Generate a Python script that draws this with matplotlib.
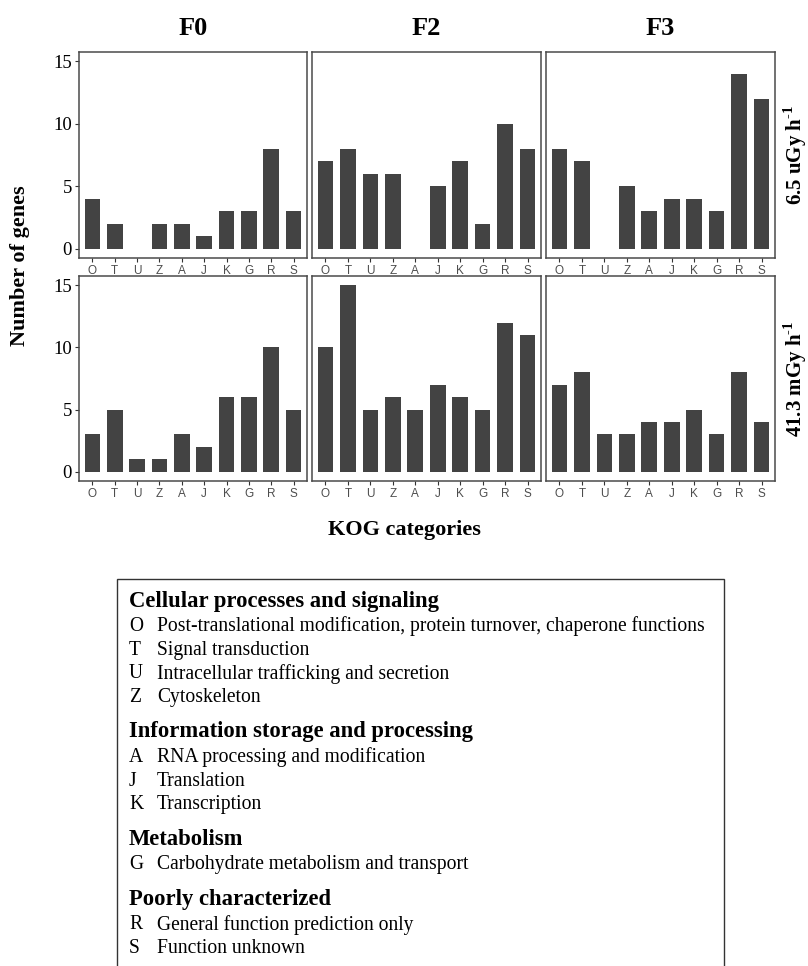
import matplotlib
matplotlib.use("Agg")
import matplotlib.pyplot as plt
from matplotlib.patches import Rectangle

plt.rcParams["mathtext.fontset"] = "custom"
plt.rcParams["mathtext.rm"] = "Liberation Serif:bold"
plt.rcParams["mathtext.bf"] = "Liberation Serif:bold"

categories = ["O", "T", "U", "Z", "A", "J", "K", "G", "R", "S"]
generations = ["F0", "F2", "F3"]
dose_labels = [r"6.5 uGy h$^{\mathbf{\text{-}1}}$", r"41.3 mGy h$^{\mathbf{\text{-}1}}$"]

# genes per KOG category, one list per generation
low_f0 = [4, 2, 0, 2, 2, 1, 3, 3, 8, 3]
low_f2 = [7, 8, 6, 6, 0, 5, 7, 2, 10, 8]
low_f3 = [8, 7, 0, 5, 3, 4, 4, 3, 14, 12]
high_f0 = [3, 5, 1, 1, 3, 2, 6, 6, 10, 5]
high_f2 = [10, 15, 5, 6, 5, 7, 6, 5, 12, 11]
high_f3 = [7, 8, 3, 3, 4, 4, 5, 3, 8, 4]

legend_groups = [
    ("Cellular processes and signaling", [
        ("O", "Post-translational modification, protein turnover, chaperone functions"),
        ("T", "Signal transduction"),
        ("U", "Intracellular trafficking and secretion"),
        ("Z", "Cytoskeleton")]),
    ("Information storage and processing", [
        ("A", "RNA processing and modification"),
        ("J", "Translation"),
        ("K", "Transcription")]),
    ("Metabolism", [
        ("G", "Carbohydrate metabolism and transport")]),
    ("Poorly characterized", [
        ("R", "General function prediction only"),
        ("S", "Function unknown")]),
]

W, H = 808, 966
fig = plt.figure(figsize=(W / 100, H / 100), dpi=100)

def px_axes(x0, y0, x1, y1):
    # pixel box (top-left origin) -> figure axes
    return fig.add_axes([x0 / W, 1 - y1 / H, (x1 - x0) / W, (y1 - y0) / H])

serif = "Liberation Serif"
col_px = [(79, 307), (312, 541), (546, 775)]
row_px = [(52, 258), (276, 481)]
data = [[low_f0, low_f2, low_f3], [high_f0, high_f2, high_f3]]
xpos = list(range(1, len(categories) + 1))

for r, (y0, y1) in enumerate(row_px):
    for c, (x0, x1) in enumerate(col_px):
        ax = px_axes(x0, y0, x1, y1)
        ax.bar(xpos, data[r][c], width=0.7, color="#434343", linewidth=0)
        ax.set_xlim(0.4, 10.6)
        ax.set_ylim(-0.75, 15.75)
        ax.set_xticks(xpos)
        ax.set_xticklabels(categories, fontsize=8.5, color="#4d4d4d",
                           family="Liberation Sans")
        ax.set_yticks([0, 5, 10, 15])
        if c == 0:
            ax.set_yticklabels(["0", "5", "10", "15"], fontsize=13.5,
                               family=serif, color="black")
        else:
            ax.tick_params(axis="y", left=False, labelleft=False)
        ax.tick_params(axis="both", length=3, width=0.8, color="#333333", pad=2)
        for s in ax.spines.values():
            s.set_color("#4a4a4a")
            s.set_linewidth(1.1)
        if r == 0:
            ax.set_title(generations[c], fontsize=19, family=serif,
                         fontweight="bold", pad=12)
        if c == 2:
            ax.text(1.09, 0.5, dose_labels[r], transform=ax.transAxes,
                    rotation=90, ha="center", va="center", fontsize=15,
                    family=serif, fontweight="bold")

fig.text(20 / W, 1 - 266 / H, "Number of genes", rotation=90, ha="center",
         va="center", fontsize=16, family=serif, fontweight="bold")
fig.text(404 / W, 1 - 530 / H, "KOG categories", ha="center", va="center",
         fontsize=16, family=serif, fontweight="bold")

# legend box, runs off the bottom edge
fig.patches.append(Rectangle((117 / W, -0.02), (724 - 117) / W, 1 - 579 / H + 0.02,
                             transform=fig.transFigure, fill=False,
                             edgecolor="#333333", linewidth=1.0))

y = 601
for head, items in legend_groups:
    fig.text(129 / W, 1 - y / H, head, ha="left", va="center", fontsize=16.3,
             family=serif, fontweight="bold")
    y += 25.5
    for code, desc in items:
        fig.text(129 / W, 1 - y / H, code, ha="left", va="center",
                 fontsize=14.1, family=serif)
        fig.text(157 / W, 1 - y / H, desc, ha="left", va="center",
                 fontsize=14.1, family=serif)
        y += 23.6
    y += 11

fig.savefig("out.png", dpi=100)
